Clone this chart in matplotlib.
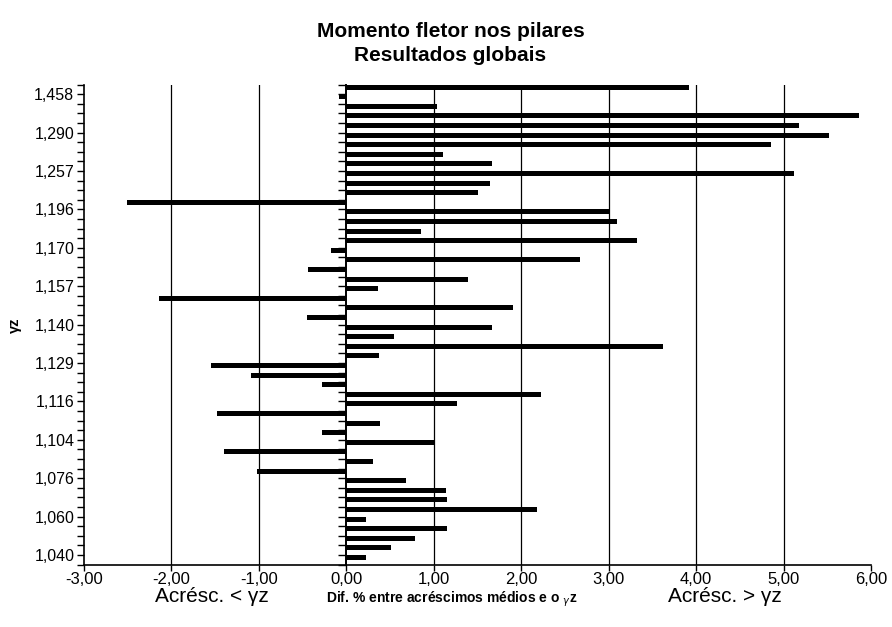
import numpy as np
import matplotlib
matplotlib.use("Agg")
import matplotlib.pyplot as plt
from matplotlib.ticker import FixedLocator, NullFormatter

# Percent difference between mean increments and gamma-z, one value per column case (top to bottom)
dif_pct = [3.92, -0.08, 1.04, 5.86, 5.18, 5.52, 4.86, 1.10, 1.67, 5.12, 1.64, 1.50,
           -2.51, 3.00, 3.10, 0.85, 3.32, -0.18, 2.67, -0.44, 1.39, 0.36, -2.14, 1.91,
           -0.45, 1.67, 0.54, 3.62, 0.37, -1.55, -1.09, -0.28, 2.23, 1.27, -1.48, 0.38,
           -0.28, 1.01, -1.40, 0.30, -1.02, 0.68, 1.14, 1.15, 2.18, 0.22, 1.15, 0.78,
           0.51, 0.22]

# gamma-z values shown on the category axis (every fourth case, starting at the second)
gz_labels = ["1,458", "1,290", "1,257", "1,196", "1,170", "1,157", "1,140",
             "1,129", "1,116", "1,104", "1,076", "1,060", "1,040"]
gz_label_step = 4
gz_label_first = 1

x_ticks = [-3, -2, -1, 0, 1, 2, 3, 4, 5, 6]

plt.rcParams["font.family"] = ["Liberation Sans", "DejaVu Sans"]

fig = plt.figure(figsize=(8.92, 6.27), dpi=100)
ax = fig.add_axes([0.0942, 0.0995, 0.8823, 0.7655])

n = len(dif_pct)
slots = np.arange(n)
ax.barh(slots + 0.25, dif_pct, height=0.52, color="black", zorder=3)

ax.set_xlim(x_ticks[0], x_ticks[-1])
ax.set_ylim(n, 0)

# x axis
ax.set_xticks(x_ticks)
ax.set_xticklabels([f"{v:.2f}".replace(".", ",") for v in x_ticks], fontsize=12)
ax.tick_params(axis="x", direction="out", length=4, width=1, pad=1.5)
for xv in x_ticks[1:-1]:
    if xv != 0:
        ax.axvline(xv, color="black", lw=0.9, zorder=1)

# y axis (category ticks on the left edge)
label_pos = [gz_label_first + gz_label_step * k for k in range(len(gz_labels))]
ax.yaxis.set_major_locator(FixedLocator(label_pos))
ax.set_yticklabels(gz_labels, fontsize=11.5)
ax.yaxis.set_minor_locator(FixedLocator(range(n + 1)))
ax.tick_params(axis="y", which="both", direction="out", length=5, width=1, pad=2)

for side in ("top", "right"):
    ax.spines[side].set_visible(False)
for side in ("left", "bottom"):
    ax.spines[side].set_linewidth(1.2)

# category axis drawn again where it crosses x = 0
zero_frac = (0 - x_ticks[0]) / (x_ticks[-1] - x_ticks[0])
sec = ax.secondary_yaxis(zero_frac)
sec.yaxis.set_major_locator(FixedLocator(range(n + 1)))
sec.yaxis.set_major_formatter(NullFormatter())
sec.yaxis.set_ticks_position("left")
sec.tick_params(axis="y", direction="out", length=6, width=1)
for sp in sec.spines.values():
    sp.set_linewidth(1.4)

# titles and captions
fig.text(0.505, 0.949, "Momento fletor nos pilares", ha="center", va="center",
         fontsize=15, fontweight="bold")
fig.text(0.505, 0.911, "Resultados globais", ha="center", va="center",
         fontsize=15, fontweight="bold")
fig.text(0.017, 0.482, "γz", rotation=90, ha="center", va="center",
         fontsize=10.5, fontweight="bold")
fig.text(0.238, 0.049, "Acrésc. < γz", ha="center", va="center", fontsize=15)
fig.text(0.506, 0.044, r"Dif. % entre acréscimos médios e o $_\gamma$z", ha="center",
         va="center", fontsize=10, fontweight="bold")
fig.text(0.813, 0.049, "Acrésc. > γz", ha="center", va="center", fontsize=15)

fig.savefig("out.png", dpi=100)
